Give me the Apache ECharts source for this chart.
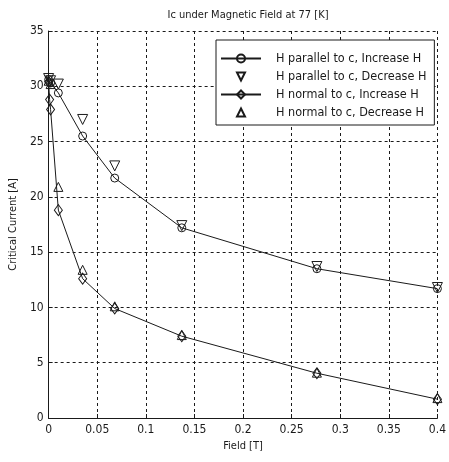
<!DOCTYPE html>
<html>
<head>
<meta charset="utf-8">
<script src="https://cdn.jsdelivr.net/npm/echarts@6/dist/echarts.min.js"></script>
<style>
  html, body { margin: 0; padding: 0; background: #fff; }
  #main { width: 449px; height: 462px; }
</style>
</head>
<body>
<div id="main"></div>
<script>
// field values [T] and critical current [A]
var fieldParInc = [0, 0.002, 0.01, 0.035, 0.068, 0.137, 0.276, 0.4];
var icParInc    = [30.6, 30.3, 29.4, 25.5, 21.7, 17.2, 13.5, 11.7];

var fieldParDec = [0, 0.002, 0.01, 0.035, 0.068, 0.137, 0.276, 0.4];
var icParDec    = [30.7, 30.5, 30.2, 27.0, 22.8, 17.4, 13.7, 11.8];

var fieldNorInc = [0, 0.001, 0.002, 0.01, 0.035, 0.068, 0.137, 0.276, 0.4];
var icNorInc    = [30.4, 28.8, 27.9, 18.8, 12.6, 9.9, 7.4, 4.05, 1.7];

var fieldNorDec = [0, 0.002, 0.01, 0.035, 0.068, 0.137, 0.276, 0.4];
var icNorDec    = [30.5, 30.2, 20.9, 13.4, 10.1, 7.5, 4.1, 1.8];

var names = ['H parallel to c, Increase H', 'H parallel to c, Decrease H',
             'H normal to c, Increase H', 'H normal to c, Decrease H'];

function pairs(xs, ys) {
  return xs.map(function (x, i) { return [x, ys[i]]; });
}

var font = "'Liberation Sans Narrow', 'DejaVu Sans Condensed', 'Liberation Sans', Arial, sans-serif";
var ink = '#1a1a1a';
var hollow = { color: 'rgba(255,255,255,0)', borderColor: ink, borderWidth: 1 };

let myChart = echarts.init(document.getElementById('main'));
option = {
    backgroundColor: '#fff',
    animation: false,
    textStyle: { fontFamily: font, color: ink },
    title: {
        text: 'Ic under Magnetic Field at 77 [K]',
        left: 243,
        textAlign: 'center',
        top: 5,
        textStyle: { fontSize: 11, fontWeight: 'normal', color: ink, fontFamily: font }
    },
    legend: {
        data: names,
        orient: 'vertical',
        left: 216,
        top: 40,
        padding: [12, 8, 6, 4],
        itemGap: 5,
        itemWidth: 40,
        itemHeight: 10,
        borderColor: ink,
        borderWidth: 1,
        backgroundColor: '#fff',
        textStyle: { fontSize: 12.5, color: ink, fontFamily: font, padding: [0, 0, 0, 10] }
    },
    grid: { left: 43, right: 6, top: 31, bottom: 44 },
    xAxis: {
        type: 'value',
        min: 0,
        max: 0.4,
        interval: 0.05,
        name: 'Field [T]',
        nameLocation: 'middle',
        nameGap: 22,
        nameTextStyle: { fontSize: 11, color: ink },
        axisLine: { show: true, lineStyle: { color: ink } },
        axisTick: { show: true, inside: true, length: 4, lineStyle: { color: ink } },
        axisLabel: { fontSize: 12, color: ink, margin: 6 },
        splitLine: { show: true, lineStyle: { color: ink, type: [3, 3], width: 1 } }
    },
    yAxis: {
        type: 'value',
        min: 0,
        max: 35,
        interval: 5,
        name: 'Critical Current [A]',
        nameLocation: 'middle',
        nameGap: 26,
        nameTextStyle: { fontSize: 11, color: ink },
        axisLine: { show: true, lineStyle: { color: ink } },
        axisTick: { show: true, inside: true, length: 4, lineStyle: { color: ink } },
        axisLabel: { fontSize: 12, color: ink, margin: 5 },
        splitLine: { show: true, lineStyle: { color: ink, type: [3, 3], width: 1 } }
    },
    series: [
        {
            name: names[0],
            type: 'line',
            symbol: 'circle',
            symbolSize: 8,
            itemStyle: hollow,
            lineStyle: { color: ink, width: 1 },
            data: pairs(fieldParInc, icParInc)
        },
        {
            name: names[1],
            type: 'line',
            symbol: 'triangle',
            symbolRotate: 180,
            symbolSize: 10,
            itemStyle: hollow,
            lineStyle: { color: ink, width: 0, opacity: 0 },
            data: pairs(fieldParDec, icParDec)
        },
        {
            name: names[2],
            type: 'line',
            symbol: 'diamond',
            symbolSize: [8, 11],
            itemStyle: hollow,
            lineStyle: { color: ink, width: 1 },
            data: pairs(fieldNorInc, icNorInc)
        },
        {
            name: names[3],
            type: 'line',
            symbol: 'triangle',
            symbolSize: 9,
            itemStyle: hollow,
            lineStyle: { color: ink, width: 0, opacity: 0 },
            data: pairs(fieldNorDec, icNorDec)
        }
    ]
};
myChart.setOption(option);
</script>
</body>
</html>
